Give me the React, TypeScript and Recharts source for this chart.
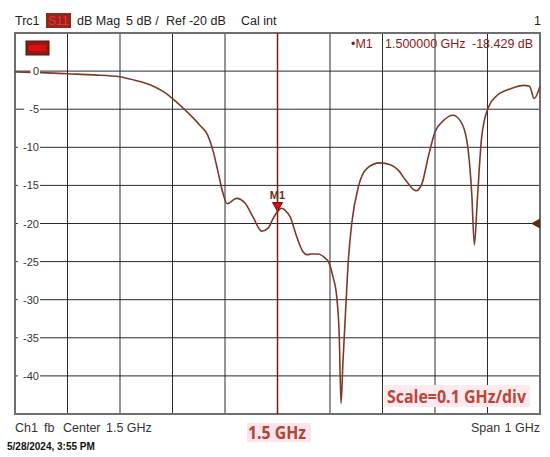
import {
  LineChart,
  Line,
  XAxis,
  YAxis,
  CartesianGrid,
  ReferenceLine,
  ReferenceDot,
  ReferenceArea,
} from "recharts";

// S11 trace (1.0 .. 2.0 GHz span)
const FREQ_GHZ = [
  1.0, 1.05, 1.1, 1.15, 1.2, 1.21, 1.24, 1.2625, 1.285, 1.3, 1.327, 1.352, 1.367, 1.377, 1.386,
  1.396, 1.404, 1.422, 1.438, 1.453, 1.47, 1.482, 1.492, 1.5, 1.508, 1.515, 1.524, 1.5365,
  1.5485, 1.556, 1.565, 1.578, 1.59, 1.597, 1.6057, 1.6128, 1.6177, 1.621, 1.6248, 1.6286,
  1.635, 1.6414, 1.654, 1.67, 1.695, 1.715, 1.73, 1.746, 1.764, 1.775, 1.787, 1.8, 1.816,
  1.834, 1.848, 1.8606, 1.87, 1.875, 1.8806, 1.889, 1.902, 1.918, 1.9445, 1.9685, 1.98,
  1.989, 2.0,
];
const S11_DB = [
  -0.1, -0.2, -0.35, -0.5, -0.75, -0.9, -1.4, -1.95, -2.8, -3.6, -5.3, -7.1, -8.4, -10.4, -13,
  -16, -17.4, -16.7, -17.3, -19.1, -21, -20.6, -19.3, -18.43, -18.0, -18.3, -19.1, -21.7,
  -23.7, -24.1, -24.0, -24.0, -24.5, -25, -27, -29.6, -34.9, -43.6, -38, -33,
  -24.8, -20, -15.2, -12.8, -12.05, -12.3, -13, -14.5, -15.7, -14.8, -11.3, -8, -6.5,
  -5.8, -6.5, -9.1, -16.1, -22.8, -16.9, -8.6, -4.7, -3.2, -2.3, -1.87, -2,
  -3.6, -2,
];

const X_TICKS = [1.0, 1.1, 1.2, 1.3, 1.4, 1.5, 1.6, 1.7, 1.8, 1.9, 2.0];
const Y_TICKS = [-40, -35, -30, -25, -20, -15, -10, -5, 0];

const MARKER_FREQ = 1.5;
const MARKER_DB = -18.429;
const REF_LEVEL = -20;

const data = FREQ_GHZ.map((f, i) => ({ f, db: S11_DB[i] }));

const FONT = "'Liberation Sans', Arial, sans-serif";
const BOLD_FONT = "'Open Sans', 'Liberation Sans', sans-serif";

function DbTick(props: any) {
  const { y, payload } = props;
  const label = String(payload.value);
  const w = label.length * 6.4 + 3;
  return (
    <g>
      <rect x={40 - w} y={y - 6} width={w} height={12} fill="#fff" />
      <text x={39} y={y} dy={4} textAnchor="end" fontSize={11} fill="#333" fontFamily={FONT}>
        {label}
      </text>
    </g>
  );
}

function MarkerShape(props: any) {
  const { cx, cy } = props;
  return (
    <g>
      <polygon
        points={`${cx - 5},${cy - 9} ${cx + 5},${cy - 9} ${cx},${cy}`}
        fill="#d01010"
        stroke="#6a1a10"
        strokeWidth={1}
      />
      <text
        x={cx}
        y={cy - 13}
        textAnchor="middle"
        fontSize={11}
        fontWeight="bold"
        fill="#6e2a1c"
        fontFamily={FONT}
      >
        M1
      </text>
    </g>
  );
}

function RefArrow(props: any) {
  const { cx, cy } = props;
  return (
    <polygon points={`${cx - 9},${cy} ${cx},${cy - 5} ${cx},${cy + 5}`} fill="#5a2a12" />
  );
}

export default function App() {
  return (
    <div style={{ position: "absolute", left: 0, top: 0, width: 550, height: 457, background: "#fff" }}>
      <LineChart
        width={550}
        height={457}
        data={data}
        margin={{ top: 33, right: 10, bottom: 43, left: 15 }}
      >
        <CartesianGrid stroke="#2a2a2a" strokeWidth={1} />
        <XAxis type="number" dataKey="f" domain={[1, 2]} ticks={X_TICKS} hide />
        <YAxis
          type="number"
          domain={[-45, 5]}
          ticks={Y_TICKS}
          mirror
          axisLine={false}
          tickLine={false}
          tick={<DbTick />}
        />
        <ReferenceArea
          x1={1}
          x2={2}
          y1={-45}
          y2={5}
          fill="none"
          stroke="#6e6e6e"
          strokeWidth={2}
          fillOpacity={0}
        />
        <ReferenceLine x={MARKER_FREQ} stroke="#7a1f18" strokeWidth={1.5} />
        <Line
          type="monotone"
          dataKey="db"
          stroke="#7d3a2a"
          strokeWidth={1.6}
          dot={false}
          isAnimationActive={false}
        />
        <ReferenceDot x={MARKER_FREQ} y={MARKER_DB} shape={<MarkerShape />} />
        <ReferenceDot x={2} y={REF_LEVEL} shape={<RefArrow />} />
      </LineChart>

      <svg
        width={550}
        height={457}
        style={{ position: "absolute", left: 0, top: 0, pointerEvents: "none" }}
      >
        {/* header line */}
        <text x={15} y={25} fontSize={12.5} fill="#222" fontFamily={FONT}>Trc1</text>
        <rect x={46} y={13} width={25} height={15} fill="#8c2a1e" />
        <text x={48} y={25} fontSize={12} fill="#ff2a2a" fontFamily={FONT}>S11</text>
        <text x={77} y={25} fontSize={12.5} fill="#222" fontFamily={FONT}>dB Mag</text>
        <text x={126} y={25} fontSize={12.5} fill="#222" fontFamily={FONT}>5 dB /</text>
        <text x={166} y={25} fontSize={12.5} fill="#222" fontFamily={FONT}>Ref -20 dB</text>
        <text x={241} y={25} fontSize={12.5} fill="#222" fontFamily={FONT}>Cal int</text>
        <text x={534} y={25} fontSize={12.5} fill="#222" fontFamily={FONT}>1</text>

        {/* trace badge */}
        <rect x={26} y={41} width={23} height={14} fill="#8e1c14" stroke="#5a1008" />
        <rect x={29} y={45} width={17} height={6} fill="#e01010" />

        {/* marker readout */}
        <text x={351} y={48} fontSize={12.5} fill="#8b1a1a" fontFamily={FONT}>•M1</text>
        <text x={385} y={48} fontSize={12.5} fill="#8b1a1a" fontFamily={FONT}>1.500000 GHz</text>
        <text x={472} y={48} fontSize={12.5} fill="#8b1a1a" fontFamily={FONT}>-18.429 dB</text>

        {/* scale note */}
        <rect x={384} y={385} width={146} height={22} fill="#fde9ee" />
        <text
          x={387}
          y={403}
          fontSize={17}
          fontWeight="bold"
          fill="#b8473a"
          fontFamily={BOLD_FONT}
          textLength={139}
          lengthAdjust="spacingAndGlyphs"
        >
          Scale=0.1 GHz/div
        </text>

        {/* footer */}
        <text x={15} y={432} fontSize={12.5} fill="#333" fontFamily={FONT}>Ch1</text>
        <text x={44} y={432} fontSize={12.5} fill="#333" fontFamily={FONT}>fb</text>
        <text x={63} y={432} fontSize={12.5} fill="#333" fontFamily={FONT}>Center</text>
        <text x={106} y={432} fontSize={12.5} fill="#333" fontFamily={FONT}>1.5 GHz</text>
        <text x={471} y={432} fontSize={12.5} fill="#333" fontFamily={FONT}>Span</text>
        <text x={540} y={432} textAnchor="end" fontSize={12.5} fill="#333" fontFamily={FONT}>
          1 GHz
        </text>
        <rect x={247} y={423} width={64} height={19} fill="#fde3ea" />
        <text
          x={248}
          y={439}
          fontSize={17}
          fontWeight="bold"
          fill="#aa4634"
          fontFamily={BOLD_FONT}
          textLength={58}
          lengthAdjust="spacingAndGlyphs"
        >
          1.5 GHz
        </text>
        <text x={7} y={450} fontSize={10} fontWeight="bold" fill="#111" fontFamily={FONT}>
          5/28/2024, 3:55 PM
        </text>
      </svg>
    </div>
  );
}
